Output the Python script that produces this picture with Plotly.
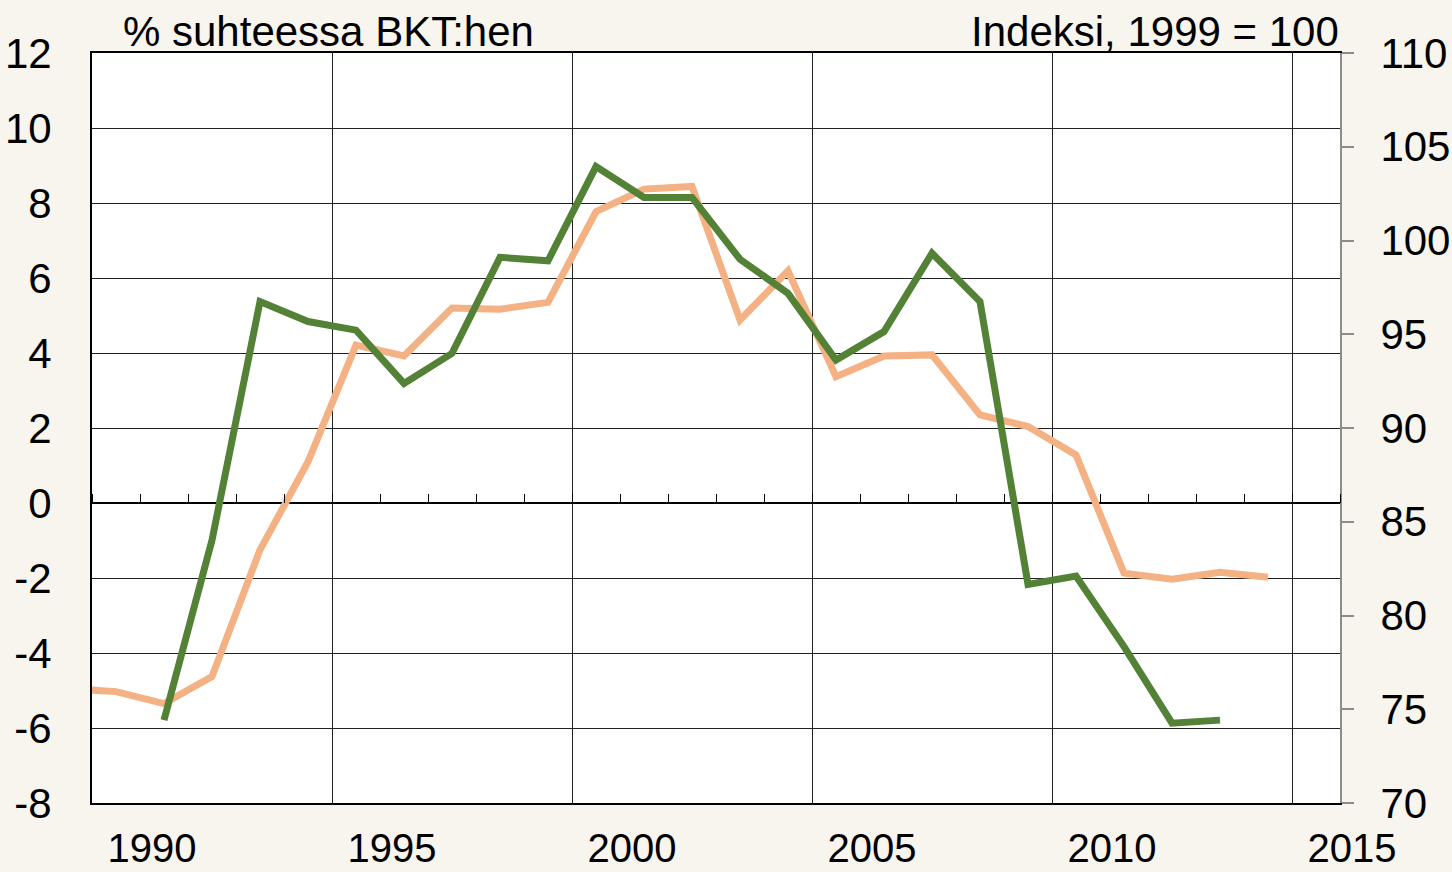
import plotly.graph_objects as go

# Data (point for year Y placed at x = Y)
years_orange = list(range(1989, 2015))
current_account = [-4.95, -5.03, -5.35, -4.63, -1.25, 1.10, 4.21, 3.92, 5.20, 5.17,
                   5.35, 7.77, 8.37, 8.44, 4.88, 6.19, 3.37, 3.92, 3.95, 2.35,
                   2.04, 1.28, -1.87, -2.03, -1.85, -1.98]

years_green = list(range(1991, 2014))
index_1999 = [74.42, 84.02, 96.74, 95.68, 95.22, 92.38, 93.98, 99.10, 98.92, 103.94,
              102.30, 102.30, 99.00, 97.18, 93.62, 95.14, 99.32, 96.74, 81.66, 82.10,
              78.34, 74.26, 74.42]

x_grid_vals = [1989.5, 1994.5, 1999.5, 2004.5, 2009.5, 2014.5]
x_tick_text = ["1990", "1995", "2000", "2005", "2010", "2015"]
left_tick_vals = [-8, -6, -4, -2, 0, 2, 4, 6, 8, 10, 12]
left_tick_text = ["-8", "-6", "-4", "-2", "0", "2", "4", "6", "8", "10", "12"]
right_tick_vals = [70, 75, 80, 85, 90, 95, 100, 105, 110]
left_title = "% suhteessa BKT:hen"
right_title = "Indeksi, 1999 = 100"

FONT = "Liberation Sans, Arial, sans-serif"
FS = 42

fig = go.Figure()
fig.add_trace(go.Scatter(x=years_orange, y=current_account, mode="lines",
                         line=dict(color="#F4B183", width=7), xaxis="x", yaxis="y",
                         showlegend=False, hoverinfo="skip"))
fig.add_trace(go.Scatter(x=years_green, y=index_1999, mode="lines",
                         line=dict(color="#538135", width=7), xaxis="x2", yaxis="y2",
                         showlegend=False, hoverinfo="skip"))

fig.update_layout(
    width=1452, height=872,
    autosize=False,
    margin=dict(l=92, r=112, t=53, b=69, autoexpand=False),
    paper_bgcolor="#F8F4EE",
    plot_bgcolor="#FFFFFF",
    font=dict(family=FONT, size=FS, color="#000000"),
    xaxis=dict(range=[1989.5, 2015.5], tickmode="array", tickvals=x_grid_vals,
               ticktext=x_tick_text, ticklabelshift=60, ticklabelstandoff=9,
               ticks="", showgrid=True, gridcolor="#222222", gridwidth=1,
               showline=True, linecolor="#000000", linewidth=2, mirror=True,
               zeroline=False, tickfont=dict(size=40), automargin=False),
    xaxis2=dict(range=[1989.5, 2015.5], overlaying="x", anchor="free", position=0.4,
                side="top", tickmode="linear", tick0=1989.5, dtick=1,
                ticks="outside", ticklen=9, tickcolor="#000000", tickwidth=1,
                showticklabels=False, showgrid=False, showline=False, zeroline=False,
                automargin=False),
    yaxis=dict(range=[-8, 12], tickmode="array", tickvals=left_tick_vals,
               ticktext=left_tick_text,
               showgrid=True, gridcolor="#222222", gridwidth=1,
               zeroline=True, zerolinecolor="#000000", zerolinewidth=1.5,
               showline=True, linecolor="#000000", linewidth=2,
               ticks="", ticklabelstandoff=30, tickfont=dict(size=FS), automargin=False),
    yaxis2=dict(range=[70, 110], tickmode="array", tickvals=right_tick_vals,
                overlaying="y", side="right", showgrid=False, zeroline=False,
                showline=True, linecolor="#8C8C8C", linewidth=2,
                ticks="outside", ticklen=12, tickcolor="#8C8C8C", tickwidth=2,
                ticklabelstandoff=18, tickfont=dict(size=FS), automargin=False),
    annotations=[
        dict(text=left_title, xref="paper", yref="paper", x=(121 - 92) / 1248, y=1,
             xanchor="left", yanchor="bottom", yshift=-4, showarrow=False,
             font=dict(size=FS, family=FONT)),
        dict(text=right_title, xref="paper", yref="paper", x=(1341 - 92) / 1248, y=1,
             xanchor="right", yanchor="bottom", yshift=-4, showarrow=False,
             font=dict(size=FS, family=FONT)),
    ],
)

fig.write_html("out.html",
               config={"displayModeBar": False},
               post_script="document.body.style.margin='0';document.body.style.overflow='hidden';")
